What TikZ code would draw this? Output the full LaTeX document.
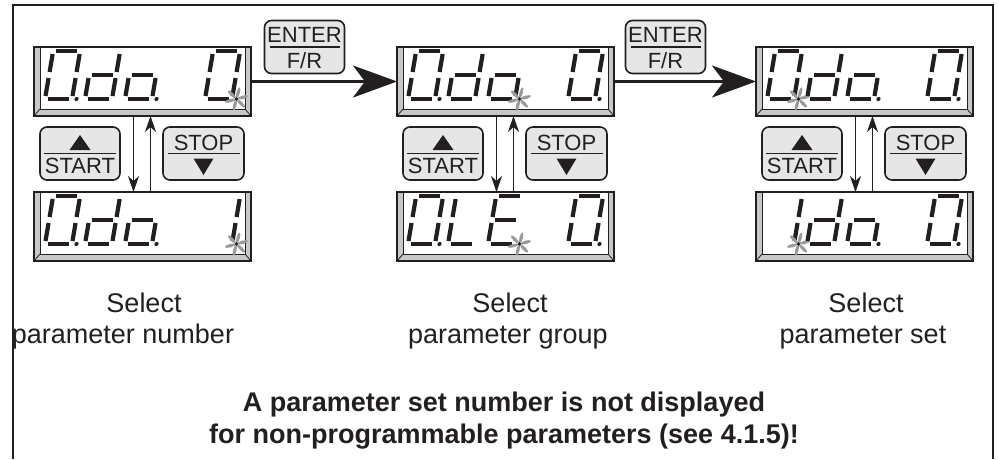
\documentclass[tikz,border=0pt]{standalone}
\usepackage{fontspec}
\setmainfont{Liberation Sans}
\usetikzlibrary{arrows.meta}
\definecolor{ink}{HTML}{231F20}
\definecolor{bevel}{HTML}{C8C8C8}
\definecolor{btnfill}{HTML}{E6E6E6}
\definecolor{astgray}{HTML}{9A9A9A}
\tikzset{
  seg/.style={line width=4.2pt, draw=ink, line cap=butt},
  lcdbox/.style={draw=ink, line width=1.3pt, fill=bevel, minimum width=217pt, minimum height=69pt, inner sep=0pt, outer sep=0pt},
  btn/.style={draw=ink, line width=1.6pt, fill=btnfill, rounded corners=7pt, minimum width=80pt, minimum height=53pt, inner sep=0pt},
  btntxt/.style={font=\fontsize{22}{22}\selectfont, text=ink, inner sep=0pt, anchor=base},
  lbl/.style={font=\fontsize{27}{27}\selectfont, text=ink, inner sep=0pt, anchor=base},
  boldlbl/.style={font=\fontsize{27}{27}\selectfont\bfseries, text=ink, inner sep=0pt, anchor=base},
  bigarrow/.style={draw=ink, line width=3pt, -{Stealth[length=44pt, width=32pt, inset=12pt]}},
  smallarrow/.style={draw=ink, line width=1.1pt, -{Stealth[length=16pt, width=11pt, inset=5pt]}},
  divider/.style={draw=ink, line width=1.2pt},
}
% seven-segment pieces (upright cell 27 x 48, baseline at y=0, up is negative y)
\newcommand\segA{\draw[seg] (3,-48) -- (24,-48);}
\newcommand\segB{\draw[seg] (27,-45) -- (27,-27);}
\newcommand\segC{\draw[seg] (27,-21) -- (27,-3);}
\newcommand\segD{\draw[seg] (3,0) -- (24,0);}
\newcommand\segE{\draw[seg] (0,-3) -- (0,-21);}
\newcommand\segF{\draw[seg] (0,-27) -- (0,-45);}
\newcommand\segG{\draw[seg] (3,-24) -- (24,-24);}
\newcommand\segP{\fill[ink] (31.5,0) circle (2.1pt);}
\newcommand\sevdigit[3]{\begin{scope}[shift={(#1,#2)},xslant=0.17]\foreach \s in {#3}{\csname seg\s\endcsname}\end{scope}}
\newcommand\astk[2]{\begin{scope}[shift={(#1,#2)}]
  \foreach \a in {15,75,135,195,255,315}{\fill[astgray,rotate=\a] (6.5,0) ellipse [x radius=5.5pt, y radius=1.7pt];}
  \fill[ink] (0,0) circle (1.9pt);\end{scope}}
\newcommand\lcd[3]{%
  \node[lcdbox, anchor=north west] (#1) at (#2,#3) {};
  \fill[white] ([xshift=6pt]#1.north west) rectangle ([xshift=-6pt,yshift=7pt]#1.south east);
  \draw[ink, line width=0.8pt] ([xshift=6pt]#1.north west) -- ([xshift=6pt,yshift=7pt]#1.south west) -- ([xshift=-6pt,yshift=7pt]#1.south east) -- ([xshift=-6pt]#1.north east);
  \draw[ink, line width=0.8pt] (#1.south west) -- ([xshift=6pt,yshift=7pt]#1.south west) (#1.south east) -- ([xshift=-6pt,yshift=7pt]#1.south east);
  \draw[ink, line width=1.3pt] (#1.north west) rectangle (#1.south east);
}
\newcommand\keypad[2]{% prefix, display left x
  \node[btn] (#1start) at (#2+46,153.5) {};
  \draw[divider] ([xshift=-36pt]#1start.center) -- ([xshift=36pt]#1start.center);
  \fill[ink] ([yshift=18.5pt]#1start.center) -- ([xshift=10.5pt,yshift=3.5pt]#1start.center) -- ([xshift=-10.5pt,yshift=3.5pt]#1start.center) -- cycle;
  \node[btntxt] (#1starttxt) at ([yshift=-19.5pt]#1start.center) {START};
  \node[btn, minimum width=81pt] (#1stop) at (#2+169.5,153.5) {};
  \draw[divider] ([xshift=-36pt]#1stop.center) -- ([xshift=36pt]#1stop.center);
  \node[btntxt] (#1stoptxt) at ([yshift=3.5pt]#1stop.center) {STOP};
  \fill[ink] ([yshift=-21.5pt]#1stop.center) -- ([xshift=10pt,yshift=-5pt]#1stop.center) -- ([xshift=-10pt,yshift=-5pt]#1stop.center) -- cycle;
}
\newcommand\enterkey[3]{% name, center x, center y
  \node[btn] (#1) at (#2,#3) {};
  \draw[divider] ([xshift=-35pt]#1.center) -- ([xshift=35pt]#1.center);
  \node[btntxt] (#1a) at ([yshift=5pt]#1.center) {ENTER};
  \node[btntxt] (#1b) at ([yshift=-21pt]#1.center) {F/R};
}
\begin{document}
\begin{tikzpicture}[x=1pt,y=-1pt]
\useasboundingbox (0,0) rectangle (999,459);
\fill[white] (0,0) rectangle (999,459);
% outer frame (open at bottom)
\draw[ink, line width=2pt] (13,459) -- (13,5) -- (993,5) -- (993,459);

% displays
\lcd{d1t}{34}{47}
\lcd{d1b}{34}{192}
\lcd{d2t}{397}{47}
\lcd{d2b}{397}{192}
\lcd{d3t}{756}{47}
\lcd{d3b}{756}{192}

% display 1 top: 0.do. 0*
\sevdigit{45}{99}{A,B,C,D,E,F,P}
\sevdigit{85}{99}{B,C,D,E,G}
\sevdigit{125}{99}{C,D,E,G,P}
\sevdigit{205}{99}{A,B,C,D,E,F}
\astk{236.5}{99}
% display 1 bottom: 0.do. 1*
\sevdigit{45}{244}{A,B,C,D,E,F,P}
\sevdigit{85}{244}{B,C,D,E,G}
\sevdigit{125}{244}{C,D,E,G,P}
\sevdigit{205}{244}{B,C}
\astk{236.5}{244}
% display 2 top: 0.do* 0.
\sevdigit{408}{99}{A,B,C,D,E,F,P}
\sevdigit{448}{99}{B,C,D,E,G}
\sevdigit{488}{99}{C,D,E,G}
\astk{519.5}{99}
\sevdigit{568}{99}{A,B,C,D,E,F,P}
% display 2 bottom: 0.LE* 0.
\sevdigit{408}{244}{A,B,C,D,E,F,P}
\sevdigit{448}{244}{D,E,F}
\sevdigit{488}{244}{A,D,E,F,G}
\astk{519.5}{244}
\sevdigit{568}{244}{A,B,C,D,E,F,P}
% display 3 top: 0*do. 0.
\sevdigit{767}{99}{A,B,C,D,E,F}
\astk{798.5}{99}
\sevdigit{807}{99}{B,C,D,E,G}
\sevdigit{847}{99}{C,D,E,G,P}
\sevdigit{927}{99}{A,B,C,D,E,F,P}
% display 3 bottom: 1*do. 0.
\sevdigit{767}{244}{B,C}
\astk{798.5}{244}
\sevdigit{807}{244}{B,C,D,E,G}
\sevdigit{847}{244}{C,D,E,G,P}
\sevdigit{927}{244}{A,B,C,D,E,F,P}

% keys
\enterkey{ent1}{304.5}{47}
\enterkey{ent2}{665.5}{47}
\keypad{k1}{34}
\keypad{k2}{397}
\keypad{k3}{756}

% connectors
\draw[bigarrow] (d1t.east) -- (d2t.west);
\draw[bigarrow] (d2t.east) -- (d3t.west);
\foreach \n in {1,2,3}{
  \draw[smallarrow] ([xshift=-9pt]d\n t.south) -- ([xshift=-9pt]d\n b.north);
  \draw[smallarrow] ([xshift=8pt]d\n b.north) -- ([xshift=8pt]d\n t.south);
}

% labels
\node[lbl] (l1a) at (144,312) {Select};
\node[lbl] (l1b) at (123,343) {parameter number};
\node[lbl] (l2a) at (510,312) {Select};
\node[lbl] (l2b) at (508,343) {parameter group};
\node[lbl] (l3a) at (866,312) {Select};
\node[lbl] (l3b) at (863,343) {parameter set};
\node[boldlbl] (note1) at (504,411) {A parameter set number is not displayed};
\node[boldlbl] (note2) at (504,443) {for non-programmable parameters (see 4.1.5)!};
\end{tikzpicture}
\end{document}
